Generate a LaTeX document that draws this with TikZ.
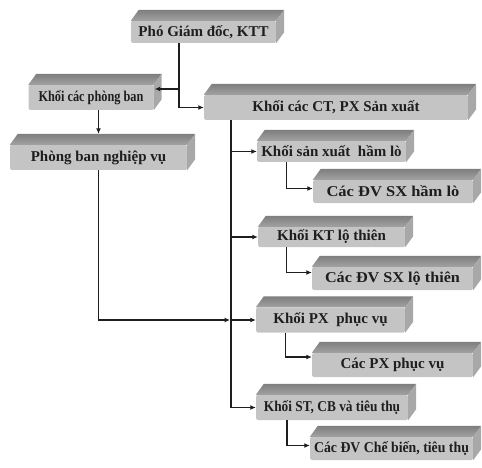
\documentclass[tikz,border=0pt]{standalone}
\usepackage{fontspec}
\usepackage{graphicx}
\setmainfont{Liberation Serif}
\usetikzlibrary{arrows.meta}
\definecolor{mat}{HTML}{C4C4C4}
\definecolor{napsau}{HTML}{7E7E7E}
\definecolor{naptruoc}{HTML}{A2A2A2}
\definecolor{canh}{HTML}{A8A8A8}
\definecolor{net}{HTML}{1E1E1E}
\newcommand{\ep}[2]{\scalebox{#1}[1]{#2}}

\begin{document}
\begin{tikzpicture}[x=1pt,y=-1pt,
        hop/.style={fill=mat, rounded corners=1.5pt, inner sep=0pt, text=net,
            font=\fontsize{15}{17}\selectfont\bfseries},
        noi/.style={draw=net, line width=1.7pt, -{Latex[length=5.5pt,width=5pt]}},
        truc/.style={draw=net, line width=1.7pt}]
        \useasboundingbox (0,0) rectangle (482,468);

        % boxes
        \node[hop, minimum width=145pt, minimum height=22pt] (gd) at (203.5,32) {Phó Giám đốc, KTT};
        \node[hop, minimum width=125pt, minimum height=25pt] (pb) at (91,97.5) {\ep{0.82}{Khối các phòng ban}};
        \node[hop, minimum width=177pt, minimum height=25pt] (pnv) at (98.5,157.5) {Phòng ban nghiệp vụ};
        \node[hop, minimum width=264pt, minimum height=25pt] (kct) at (336,107.5) {Khối các CT, PX Sản xuất};
        \node[hop, minimum width=149pt, minimum height=21pt] (ksx) at (331.5,151.5) {Khối sản xuất\ \ hầm lò};
        \node[hop, minimum width=160pt, minimum height=23pt] (dvh) at (393,191.5) {\ep{1.1}{Các ĐV SX hầm lò}};
        \node[hop, minimum width=147pt, minimum height=20pt] (kkt) at (331.5,237) {Khối KT lộ thiên};
        \node[hop, minimum width=161pt, minimum height=23pt] (dvl) at (392.5,278.5) {\ep{1.08}{Các ĐV SX lộ thiên}};
        \node[hop, minimum width=149pt, minimum height=25pt] (kpx) at (330.5,320) {Khối PX\ \ phục vụ};
        \node[hop, minimum width=161pt, minimum height=24pt] (cpx) at (392.5,365) {Các PX phục vụ};
        \node[hop, minimum width=152pt, minimum height=25pt] (kst) at (332,407.5) {\ep{0.89}{Khối ST, CB và tiêu thụ}};
        \node[hop, minimum width=163pt, minimum height=23pt] (dvc) at (391.5,448.5) {\ep{0.92}{Các ĐV Chế biến, tiêu thụ}};

        % bevels
        \foreach \n in {gd,pb,pnv,kct,ksx,dvh,kkt,dvl,kpx,cpx,kst,dvc} {
            \shade[top color=napsau, bottom color=naptruoc] (\n.north west) -- ++(8,-11)
                -- ([shift={(8,-11)}]\n.north east) -- (\n.north east) -- cycle;
            \fill[canh] (\n.north east) -- ++(8,-11)
                -- ([shift={(8,-11)}]\n.south east) -- (\n.south east) -- cycle;
        }

        % connectors
        \coordinate (tr) at ([xshift=-105pt]kct.south);
        \draw[noi] ([xshift=-24.5pt]gd.south) |- ([yshift=8.5pt,xshift=1pt]pb.east);
        \draw[noi] ([xshift=-24.5pt]gd.south) |- (kct.west);
        \draw[noi] (pnv.north |- pb.south) -- ([yshift=11pt]pnv.north);
        \draw[noi, shorten >=1pt] (pnv.south) |- (tr |- kpx.west);
        \draw[truc] (tr) -- (tr |- kst.west);
        \foreach \n in {ksx,kkt,kpx,kst}
            \draw[noi] (tr |- \n.west) -- (\n.west);
        \foreach \a/\b/\s in {ksx/dvh/3,kkt/dvl/6,kpx/cpx/8,kst/dvc/3}
            \draw[noi] ([xshift=-45pt]\a.south) |- ([yshift=\s pt]\b.west);
    \end{tikzpicture}
\end{document}
